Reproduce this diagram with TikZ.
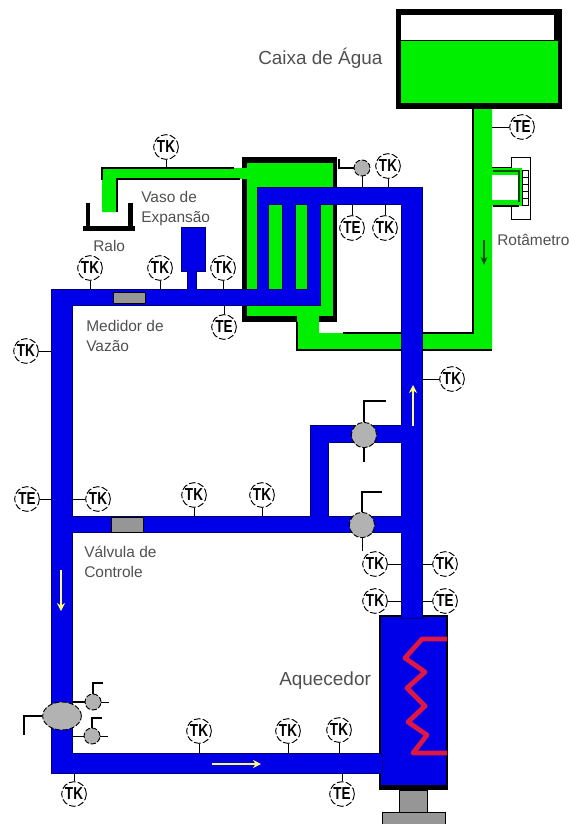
\documentclass[tikz,border=0pt]{standalone}
\usepackage{fontspec}
\setmainfont{Liberation Sans}
\usepackage{xcolor}
\usepackage{tikz}
\usetikzlibrary{positioning,arrows.meta,shapes.geometric}
\definecolor{waterblue}{RGB}{0,0,232}
\definecolor{edgeblue}{RGB}{0,0,110}
\definecolor{watergreen}{RGB}{0,238,0}
\definecolor{valvegray}{RGB}{178,178,178}
\definecolor{blockgray}{RGB}{150,150,150}
\definecolor{coilred}{RGB}{222,24,66}
\definecolor{labelgray}{RGB}{80,80,80}
\definecolor{flowyellow}{RGB}{250,250,120}
\newcommand{\sensorname}[1]{\scalebox{0.78}[1]{#1}}

\begin{document}
\begin{tikzpicture}[x=0.75pt,y=-0.75pt,
  sensor/.style={circle,draw=black,fill=white,line width=0.7pt,dash pattern=on 5pt off 1.6pt,
    minimum size=18.5pt,inner sep=0pt,font=\fontsize{13}{13}\selectfont\bfseries},
  valve/.style={circle,draw=black,fill=valvegray,line width=0.7pt,dash pattern=on 4pt off 1.4pt,
    minimum size=19pt,inner sep=0pt},
  smallvalve/.style={valve,minimum size=12pt},
  stem/.style={draw=black,line width=0.6pt},
  valvestem/.style={draw=black,line width=1.1pt},
  tag/.style={text=labelgray,anchor=west,align=left,inner sep=0pt,font=\fontsize{11.6}{15}\selectfont},
  bigtag/.style={tag,font=\fontsize{14.2}{17}\selectfont},
  flow/.style={-{Stealth[length=6pt,width=6pt]},draw=flowyellow,line width=0.8pt}
]
\useasboundingbox (0,0) rectangle (568,824);

% Water tank and cold water line
\fill[black] (396,9) rectangle (562,109);
\fill[white] (401,15) rectangle (554,40);
\fill[watergreen] (401,41) rectangle (558,103);
\fill[watergreen] (473,109) -- (492,109) -- (492,350) -- (297,350) -- (297,320) -- (319,320) -- (319,333) -- (473,333) -- cycle;

% Rotameter
\draw[black,fill=white,line width=0.7pt] (511,157) rectangle (530,219);
\foreach \y in {170,177,184,191,198}
  \draw[black,line width=0.6pt] (522,\y) rectangle (528,\y+7);
\fill[watergreen] (492,168) rectangle (522,206);
\fill[white] (492,175) rectangle (518,200);
\draw[black,line width=0.7pt] (492,167) -- (511,167);
\draw[black!70!green,line width=0.8pt] (493,171) -- (519,171) -- (519,202);
\draw[black,line width=1pt] (493,206) -- (519,206);

% Heat exchanger
\fill[black] (242,157) rectangle (337,322);
\fill[watergreen] (247,163) rectangle (333,316);
\fill[watergreen] (297,316) rectangle (319,340);
\draw[black,line width=0.8pt] (473,109) -- (473,333) -- (343,333);
\draw[black,line width=0.8pt] (297,322) -- (297,350) -- (492,350);

% Drain pipe over the sink
\fill[watergreen] (102,168) -- (250,168) -- (250,179) -- (117,179) -- (117,212) -- (102,212) -- cycle;
\draw[black,line width=1pt] (102,180) -- (102,168) -- (234,168);
\draw[black,line width=1pt] (117,212) -- (117,179) -- (240,179);
\fill[black] (86,203) rectangle (90,226);
\fill[black] (128,203) rectangle (133,226);
\fill[black] (83,226) rectangle (135,231);

% Heater body
\fill[black] (379,615) rectangle (448,790);
\fill[waterblue] (381,617) rectangle (446,785);

% Hot water loop
\path[preaction={draw=edgeblue,line width=1pt},fill=waterblue]
  (52,290) rectangle (318,305)
  (52,290) rectangle (72,773)
  (52,754) rectangle (382,773)
  (72,517) rectangle (402,532)
  (402,188) rectangle (422,618)
  (258,188) rectangle (422,204)
  (258,188) rectangle (268,290)
  (283,188) rectangle (295,290)
  (308,188) rectangle (320,305)
  (311,426) rectangle (328,517)
  (311,426) rectangle (402,442)
  (182,228) rectangle (205,271)
  (188,271) rectangle (196,290);

% Heater coil and stand
\draw[coilred,line width=3.6pt,line join=round] (447,639) -- (422,639) -- (405,658) -- (425,672) -- (407,688)
  -- (425,706) -- (408,722) -- (427,735) -- (413,753) -- (447,753);
\draw[black,fill=blockgray,line width=0.7pt] (399,790) rectangle (427,812);
\draw[black,fill=blockgray,line width=0.7pt] (382,812) rectangle (445,830);

% Flow meter and control block
\draw[black,fill=blockgray,line width=0.5pt] (113,292) rectangle (145,303);
\draw[black,fill=blockgray,line width=0.5pt] (111,517) rectangle (143,532);

% Flow arrows
\coordinate (flowaS) at (413,426);
\coordinate (flowaE) at (413,385);
\coordinate (flowbS) at (61,570);
\coordinate (flowbE) at (61,611);
\coordinate (flowcS) at (212,764);
\coordinate (flowcE) at (261,764);
\coordinate (flowdS) at (484,240);
\coordinate (flowdE) at (484,265);
\draw[flow] (flowaS) -- (flowaE);
\draw[flow] (flowbS) -- (flowbE);
\draw[flow] (flowcS) -- (flowcE);
\draw[-{Stealth[length=6pt,width=5pt]},black!70!green,line width=0.8pt] (flowdS) -- (flowdE);

% Pipe walls where the sensors land
\coordinate (wallgreentop) at (0,168);
\coordinate (walltop) at (0,290);
\coordinate (walltopb) at (0,305);
\coordinate (wallhx) at (0,188);
\coordinate (wallhxb) at (0,204);
\coordinate (wallmid) at (0,517);
\coordinate (wallbot) at (0,754);
\coordinate (wallbotb) at (0,773);
\coordinate (wallleft) at (52,0);
\coordinate (wallleftb) at (72,0);
\coordinate (wallrise) at (402,0);
\coordinate (wallriseb) at (422,0);
\coordinate (wallcold) at (492,0);

% Sensors: upper part
\node[sensor] (tkdrain) at (166,147) {\sensorname{TK}};
\node[sensor] (tete) at (522,127) {\sensorname{TE}};
\node[sensor] (tkhxa) at (388,166) {\sensorname{TK}};
\node[sensor] (tehx) at (352,228) {\sensorname{TE}};
\node[sensor] (tkhxb) at (385,228) {\sensorname{TK}};
\node[sensor] (tkra) at (90,268) {\sensorname{TK}};
\node[sensor] (tkrb) at (160,268) {\sensorname{TK}};
\node[sensor] (tkrc) at (223,268) {\sensorname{TK}};
\node[sensor] (terc) at (224,327) {\sensorname{TE}};
\node[sensor] (tkleft) at (26,351) {\sensorname{TK}};
\node[sensor] (tkrise) at (452,379) {\sensorname{TK}};
\draw[stem] (tkdrain) -- (tkdrain |- wallgreentop);
\draw[stem] (tete) -- (tete -| wallcold);
\draw[stem] (tkhxa) -- (tkhxa |- wallhx);
\draw[stem] (tehx) -- (tehx |- wallhxb);
\draw[stem] (tkhxb) -- (tkhxb |- wallhxb);
\draw[stem] (tkra) -- (tkra |- walltop);
\draw[stem] (tkrb) -- (tkrb |- walltop);
\draw[stem] (tkrc) -- (tkrc |- walltop);
\draw[stem] (terc) -- (terc |- walltopb);
\draw[stem] (tkleft) -- (tkleft -| wallleft);
\draw[stem] (tkrise) -- (tkrise -| wallriseb);

% Sensors: middle part
\node[sensor] (temid) at (27,499) {\sensorname{TE}};
\node[sensor] (tkmid) at (98,499) {\sensorname{TK}};
\node[sensor] (tkmidb) at (194,495) {\sensorname{TK}};
\node[sensor] (tkmidc) at (262,495) {\sensorname{TK}};
\node[sensor] (tkheata) at (375,564) {\sensorname{TK}};
\node[sensor] (tkheatb) at (445,564) {\sensorname{TK}};
\node[sensor] (tkheatc) at (375,601) {\sensorname{TK}};
\node[sensor] (teheat) at (445,601) {\sensorname{TE}};
\draw[stem] (temid) -- (temid -| wallleft);
\draw[stem] (tkmid) -- (tkmid -| wallleftb);
\draw[stem] (tkmidb) -- (tkmidb |- wallmid);
\draw[stem] (tkmidc) -- (tkmidc |- wallmid);
\draw[stem] (tkheata) -- (tkheata -| wallrise);
\draw[stem] (tkheatb) -- (tkheatb -| wallriseb);
\draw[stem] (tkheatc) -- (tkheatc -| wallrise);
\draw[stem] (teheat) -- (teheat -| wallriseb);

% Sensors: lower part
\node[sensor] (tkbota) at (199,731) {\sensorname{TK}};
\node[sensor] (tkbotb) at (288,731) {\sensorname{TK}};
\node[sensor] (tkbotc) at (339,730) {\sensorname{TK}};
\node[sensor] (tebot) at (342,794) {\sensorname{TE}};
\node[sensor] (tkbotd) at (74,794) {\sensorname{TK}};
\draw[stem] (tkbota) -- (tkbota |- wallbot);
\draw[stem] (tkbotb) -- (tkbotb |- wallbot);
\draw[stem] (tkbotc) -- (tkbotc |- wallbot);
\draw[stem] (tebot) -- (tebot |- wallbotb);
\draw[stem] (tkbotd) -- (tkbotd |- wallbotb);

% Valves
\node[smallvalve] (vhx) at (362,168) {};
\node[valve] (vbyp) at (364,435) {};
\node[valve] (vmid) at (362,525) {};
\node[valve,ellipse,minimum width=29pt,minimum height=21pt] (vmain) at (62,716) {};
\node[smallvalve] (vsa) at (93,702) {};
\node[smallvalve] (vsb) at (92,736) {};
\coordinate (vhxa) at (339,159);
\coordinate (vbypa) at (386,401);
\coordinate (vbypb) at (364,462);
\coordinate (vmida) at (382,492);
\coordinate (vmainb) at (24,735);
\coordinate (vsat) at (103,683);
\coordinate (vsar) at (109,702);
\coordinate (vsal) at (72,702);
\coordinate (vsbt) at (102,718);
\coordinate (vsbr) at (108,736);
\coordinate (vsbl) at (72,736);
\draw[valvestem] (vhx.west) -| (vhxa);
\draw[stem] (vhx) -- (vhx |- wallhx);
\draw[valvestem] (vbyp.north) |- (vbypa);
\draw[valvestem] (vbyp.south) -- (vbypb);
\draw[valvestem] (vmid.north) |- (vmida);
\draw[stem] (vmid) -- (vmid |- tkheata.north);
\draw[valvestem] (vmain.west) -| (vmainb);
\draw[valvestem] (vsa.north) |- (vsat);
\draw[stem] (vsa) -- (vsar);
\draw[valvestem] (vsa) -- (vsal);
\draw[valvestem] (vsb.north) |- (vsbt);
\draw[stem] (vsb) -- (vsbr);
\draw[stem] (vsb) -- (vsbl);

% Labels
\node[bigtag] (lbltank) at (258,58) {Caixa de Água};
\node[tag] (lblvessel) at (141,208) {Vaso de\\Expansão};
\node[tag] (lblsink) at (93,246) {Ralo};
\node[tag] (lblrota) at (497,240) {Rotâmetro};
\node[tag] (lblmeter) at (86,336) {Medidor de\\Vazão};
\node[tag] (lblctrl) at (84,562) {Válvula de\\Controle};
\node[bigtag] (lblheat) at (279,681) {Aquecedor};

\end{tikzpicture}
\end{document}
